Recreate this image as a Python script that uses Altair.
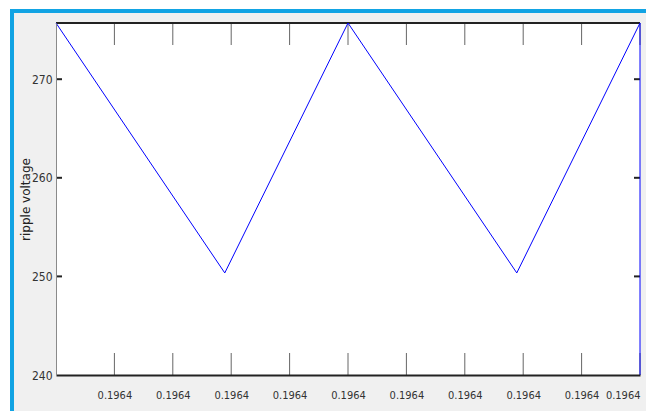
import altair as alt
import pandas as pd

# ---- data ----
t_pts = [0.0, 2.89, 5.0, 7.89, 10.0, 10.0]          # time position (in tick intervals)
v_pts = [275.7, 250.35, 275.7, 250.35, 275.7, 240.0]  # ripple voltage
x_tick_pos = [1, 2, 3, 4, 5, 6, 7, 8, 9, 10]
x_tick_labels = ["0.1964"] * 10
y_ticks = [240, 250, 260, 270]

W, H = 584, 352
FONT = "DejaVu Sans Condensed, Liberation Sans Narrow, Liberation Sans, sans-serif"

line_df = pd.DataFrame({"t": t_pts, "v": v_pts})
xt_df = pd.DataFrame({"t": x_tick_pos, "lab": x_tick_labels})
yt_df = pd.DataFrame({"v": y_ticks[1:]})

label_expr = "datum.value >= 1 ? '" + x_tick_labels[0] + "' : ''"

xs = alt.Scale(domain=[0, 10], nice=False, zero=False)
ys = alt.Scale(domain=[240, 275.7], nice=False, zero=False)

line = alt.Chart(line_df).mark_line(color="#0000ff", strokeWidth=1).encode(
    x=alt.X("t:Q", scale=xs,
            axis=alt.Axis(values=x_tick_pos, labelExpr=label_expr, tickSize=0,
                          domainColor="#222222", domainWidth=2, grid=False,
                          labelFont=FONT, labelFontSize=11, labelColor="#333333",
                          labelPadding=14, labelFlush=True, zindex=1,
                          title="Time", titleFont=FONT, titleFontSize=13,
                          titleFontWeight="normal", titleColor="#222222",
                          titlePadding=18)),
    y=alt.Y("v:Q", scale=ys,
            axis=alt.Axis(values=y_ticks, tickSize=0, domainColor="#8a8a8a",
                          domainWidth=1, grid=False, labelFont=FONT,
                          labelFontSize=12, labelColor="#333333", labelPadding=4,
                          zindex=1, title="ripple voltage", titleFont="DejaVu Sans",
                          titleFontSize=12, titleFontWeight="normal",
                          titleColor="#222222", titleX=-31, titleAlign="center",
                          titleBaseline="middle")),
)

# inward x ticks (bottom and top)
xt_bottom = alt.Chart(xt_df).mark_rule(color="#666666", strokeWidth=1).encode(
    x=alt.X("t:Q", scale=xs), y=alt.value(H), y2=alt.value(H - 22))
xt_top = alt.Chart(xt_df).mark_rule(color="#666666", strokeWidth=1).encode(
    x=alt.X("t:Q", scale=xs), y=alt.value(0), y2=alt.value(22))

# inward y ticks (left and right)
yt_left = alt.Chart(yt_df).mark_rule(color="#222222", strokeWidth=2).encode(
    y=alt.Y("v:Q", scale=ys), x=alt.value(0), x2=alt.value(6))
yt_right = alt.Chart(yt_df).mark_rule(color="#222222", strokeWidth=2).encode(
    y=alt.Y("v:Q", scale=ys), x=alt.value(W - 6), x2=alt.value(W))

# top frame line
top_frame = alt.Chart(xt_df).mark_rule(color="#222222", strokeWidth=2).encode(
    x=alt.value(0), x2=alt.value(W), y=alt.value(0))

# window decoration: white margin and blue border
white_left = alt.Chart(xt_df).mark_rule(color="white", strokeWidth=4).encode(
    x=alt.value(-46), y=alt.value(-16), y2=alt.value(H + 60))
white_top = alt.Chart(xt_df).mark_rule(color="white", strokeWidth=3).encode(
    y=alt.value(-14.5), x=alt.value(-48), x2=alt.value(W + 20))
blue_left = alt.Chart(xt_df).mark_rule(color="#12a3e3", strokeWidth=3).encode(
    x=alt.value(-44), y=alt.value(-13.5), y2=alt.value(H + 60))
blue_top = alt.Chart(xt_df).mark_rule(color="#12a3e3", strokeWidth=3).encode(
    y=alt.value(-12), x=alt.value(-45.5), x2=alt.value(W + 20))

chart = alt.layer(
    white_left, white_top, blue_left, blue_top,
    xt_bottom, xt_top, yt_left, yt_right, top_frame, line,
).properties(
    width=W, height=H,
    autosize=alt.AutoSizeParams(type="none"),
    padding={"left": 48, "top": 15, "right": 6, "bottom": 36},
).configure(
    background="#f0f0f0",
).configure_view(
    fill="white", stroke=None,
)

chart.save("out.html", embed_options={"renderer": "svg", "actions": False})
